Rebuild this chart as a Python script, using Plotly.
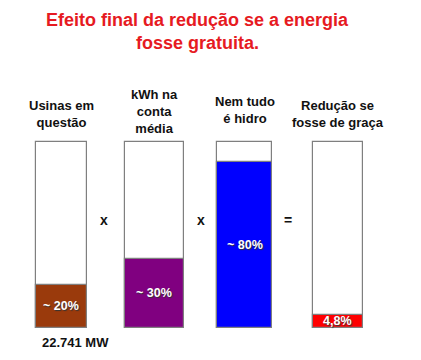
import plotly.graph_objects as go

# ---- data ----
categories = ["Usinas em<br>questão", "kWh na<br>conta<br>média", "Nem tudo<br>é hidro", "Redução se<br>fosse de graça"]
fill_values = [23, 37, 89, 6.8]          # visual fill height (% of column)
value_labels = ["~ 20%", "~ 30%", "~ 80%", "4,8%"]
operators = ["x", "x", "="]
footnote = "22.741 MW"
title_lines = ["Efeito final da redução se a energia", "fosse gratuita."]

# ---- styling / layout ----
OFF = 8  # page body margin
fill_colors = ["#9A3A0C", "#800080", "#0000FF", "#FF0000"]
x_centers = [c - OFF for c in [61.2, 154.2, 244.8, 337.8]]
bar_widths = [51, 59, 55, 50]
op_x = [c - OFF for c in [104, 201, 288]]
W, H = 421 - OFF, 360 - OFF
y_bottom_px, y_top_px = 327.7 - OFF, 141.7 - OFF
scale = 100 / (y_bottom_px - y_top_px)
def py(p):  # reference pixel row -> data y
    return (y_bottom_px - (p - OFF)) * scale
def pyr(p):  # figure pixel row -> data y
    return (y_bottom_px - p) * scale
def px(p):
    return p - OFF

FONT = "Liberation Sans, Arial, sans-serif"

fig = go.Figure()
fig.add_trace(go.Bar(x=x_centers, y=[100] * len(categories), width=bar_widths,
                     marker=dict(color="white", line=dict(color="#7f7f7f", width=1.2)),
                     hoverinfo="skip", showlegend=False))
fig.add_trace(go.Bar(x=x_centers, y=fill_values, width=bar_widths,
                     marker=dict(color=fill_colors, line=dict(color="#7f7f7f", width=1.2)),
                     hovertext=categories, showlegend=False))

ann = []
# title
for i, t in enumerate(title_lines):
    ann.append(dict(x=px(197.5), y=py([20, 43][i]), text="<b>%s</b>" % t, showarrow=False,
                    font=dict(family=FONT, size=18, color="#E61A22"),
                    xanchor="center", yanchor="middle"))
# headers
header_y = [114, 111, 110, 114]
for xc, cat, hy in zip(x_centers, categories, header_y):
    ann.append(dict(x=xc, y=py(hy), text="<b>%s</b>" % cat, showarrow=False,
                    font=dict(family=FONT, size=13, color="#111111"),
                    xanchor="center", yanchor="middle"))
# value labels
for xc, v, lab in zip(x_centers, fill_values, value_labels):
    ann.append(dict(x=xc, y=v / 2, text="<b>%s</b>" % lab, showarrow=False,
                    font=dict(family=FONT, size=12.5, color="white", shadow="1px 1px 1px #333"),
                    xanchor="center", yanchor="middle"))
# operators
for ox, op in zip(op_x, operators):
    ann.append(dict(x=ox, y=py(220), text="<b>%s</b>" % op, showarrow=False,
                    font=dict(family=FONT, size=14, color="#111111"),
                    xanchor="center", yanchor="middle"))
# footnote
ann.append(dict(x=px(75), y=py(342), text="<b>%s</b>" % footnote, showarrow=False,
                font=dict(family=FONT, size=13, color="#111111"),
                xanchor="center", yanchor="middle"))

fig.update_layout(
    width=W, height=H, margin=dict(l=0, r=0, t=0, b=0),
    paper_bgcolor="white", plot_bgcolor="white",
    barmode="overlay", bargap=0,
    xaxis=dict(range=[0, W], visible=False, fixedrange=True),
    yaxis=dict(range=[pyr(H), pyr(0)], visible=False, fixedrange=True),
    annotations=ann,
)
fig.write_html("out.html")
